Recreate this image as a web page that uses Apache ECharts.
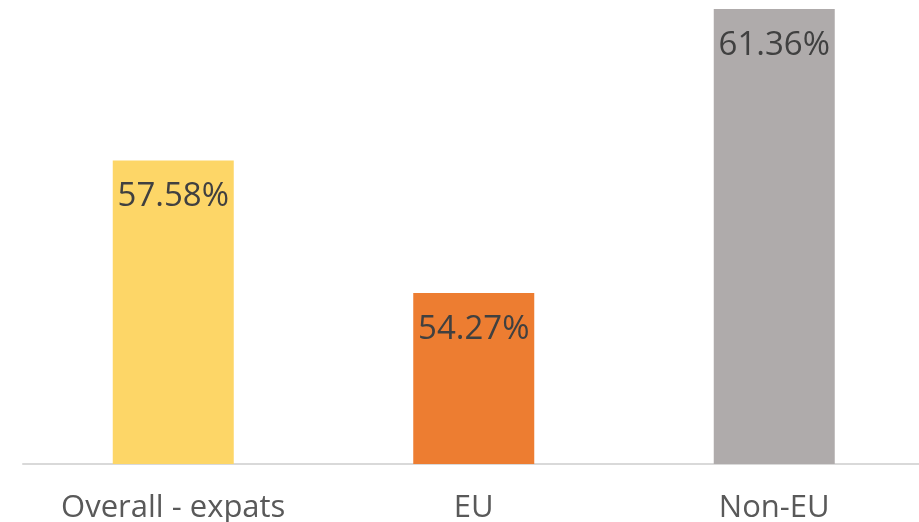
<!DOCTYPE html>
<html>
<head>
<meta charset="utf-8">
<script src="https://cdn.jsdelivr.net/npm/echarts@6/dist/echarts.min.js"></script>
<style>html,body{margin:0;padding:0;background:#fff;overflow:hidden;}#c{width:930px;height:522px;}</style>
</head>
<body>
<div id="c"></div>
<script>
const categories = ['Overall - expats', 'EU', 'Non-EU'];
const values = [57.58, 54.27, 61.36];
const colors = ['#FDD667', '#ED7D31', '#AFABAB'];

const chart = echarts.init(document.getElementById('c'));
chart.setOption({
  animation: false,
  grid: { left: 23, right: 5.5, top: 9, bottom: 58, containLabel: false, outerBoundsMode: 'none' },
  xAxis: {
    type: 'category',
    data: categories,
    axisLine: { lineStyle: { color: '#D9D9D9', width: 2 } },
    axisTick: { show: false },
    axisLabel: { color: '#595959', fontSize: 31, fontFamily: '"Open Sans", sans-serif', margin: 29 }
  },
  yAxis: {
    type: 'value', min: 50, max: 61.36,
    show: false, splitLine: { show: false }
  },
  series: [{
    type: 'bar',
    barWidth: 121,
    data: values.map((v, i) => ({ value: v, itemStyle: { color: colors[i] } })),
    label: {
      show: true, position: 'insideTop', distance: 20,
      formatter: p => p.value.toFixed(2) + '%',
      color: '#404040', fontSize: 33, fontFamily: '"Open Sans", sans-serif'
    }
  }]
});
</script>
</body>
</html>
